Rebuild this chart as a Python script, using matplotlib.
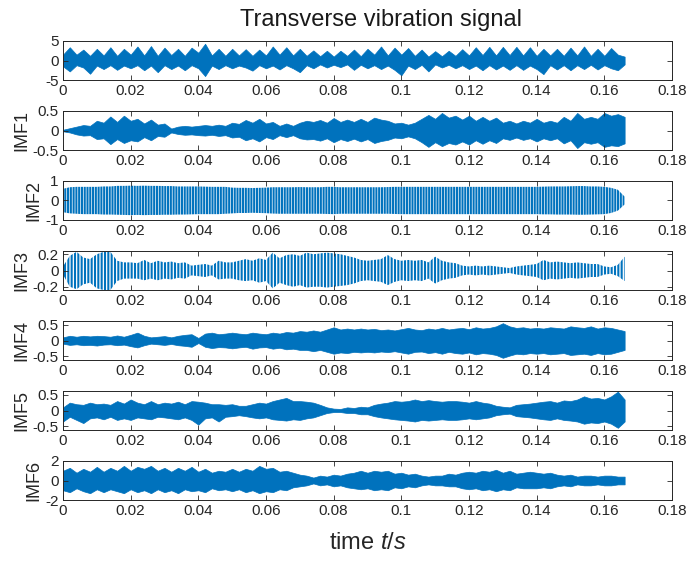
import numpy as np
import matplotlib
matplotlib.use('Agg')
import matplotlib.pyplot as plt
from matplotlib.ticker import FormatStrFormatter

plt.rcParams['font.family'] = ['Liberation Sans', 'DejaVu Sans']
plt.rcParams['mathtext.fontset'] = 'custom'
plt.rcParams['mathtext.it'] = 'Liberation Sans:italic'
plt.rcParams['mathtext.rm'] = 'Liberation Sans'
plt.rcParams['hatch.linewidth'] = 1.5

t = np.linspace(0, 0.166, 84)

raw_hi = [1.5, 3.4, 1.5, 2.8, 1.2, 3.0, 1.3, 3.4, 1.2, 3.0, 1.5, 3.6, 1.3, 3.7, 1.2, 3.3, 1.4, 3.0, 1.2, 3.3,
          2.0, 4.3, 1.3, 3.0, 1.2, 3.0, 1.3, 2.9, 1.2, 2.8, 1.3, 3.6, 1.5, 3.4, 1.3, 3.0, 1.2, 2.6, 1.1, 2.5,
          1.0, 2.5, 1.2, 2.8, 1.1, 3.0, 1.5, 3.6, 1.3, 3.3, 1.5, 3.2, 1.2, 2.8, 1.0, 2.4, 1.1, 2.5, 1.2, 2.9,
          1.3, 3.4, 1.4, 3.5, 1.3, 3.5, 1.4, 3.5, 1.3, 3.4, 1.2, 3.0, 1.3, 3.0, 1.2, 3.3, 1.3, 3.6, 1.2, 3.0,
          1.2, 3.2, 1.5, 1.0]
raw_lo = [-1.5, -2.8, -1.2, -1.8, -3.4, -1.3, -2.2, -1.2, -2.4, -1.3, -2.0, -1.2, -2.5, -1.3, -3.0, -1.2,
          -2.2, -1.3, -2.5, -1.2, -2.0, -4.0, -1.3, -2.2, -1.2, -2.0, -1.3, -1.8, -2.6, -1.2, -2.0, -1.3,
          -2.3, -1.2, -2.0, -3.0, -1.2, -2.0, -1.0, -1.8, -1.1, -1.7, -1.0, -2.4, -1.1, -2.0, -1.2, -2.2,
          -1.3, -2.4, -3.8, -1.3, -2.2, -1.1, -2.8, -1.0, -1.8, -1.1, -2.0, -1.2, -2.2, -1.3, -2.5, -1.2,
          -2.3, -1.3, -2.4, -1.2, -2.4, -1.3, -2.2, -3.5, -1.2, -2.3, -1.2, -2.5, -1.2, -2.2, -1.1, -2.3,
          -1.2, -2.0, -2.5, -1.0]

imf1_hi = [0.02, 0.06, 0.10, 0.14, 0.12, 0.25, 0.20, 0.36, 0.22, 0.38, 0.25, 0.30, 0.18, 0.28, 0.15, 0.18,
           0.05, 0.10, 0.12, 0.10, 0.12, 0.14, 0.12, 0.15, 0.12, 0.20, 0.17, 0.27, 0.20, 0.30, 0.18, 0.22,
           0.12, 0.18, 0.12, 0.20, 0.25, 0.22, 0.27, 0.20, 0.32, 0.22, 0.28, 0.22, 0.30, 0.22, 0.33, 0.28,
           0.25, 0.18, 0.20, 0.15, 0.20, 0.30, 0.40, 0.30, 0.45, 0.33, 0.38, 0.28, 0.38, 0.25, 0.35, 0.25,
           0.33, 0.20, 0.25, 0.18, 0.25, 0.20, 0.30, 0.20, 0.25, 0.20, 0.35, 0.25, 0.45, 0.30, 0.35, 0.30,
           0.45, 0.38, 0.42, 0.35]
imf1_lo = [-0.02, -0.05, -0.10, -0.13, -0.12, -0.22, -0.20, -0.35, -0.22, -0.32, -0.25, -0.28, -0.17, -0.25,
           -0.14, -0.16, -0.05, -0.09, -0.11, -0.10, -0.12, -0.13, -0.11, -0.14, -0.12, -0.18, -0.16, -0.25,
           -0.20, -0.28, -0.17, -0.22, -0.12, -0.17, -0.12, -0.20, -0.23, -0.22, -0.26, -0.20, -0.30, -0.22,
           -0.27, -0.21, -0.28, -0.22, -0.32, -0.27, -0.24, -0.18, -0.20, -0.15, -0.20, -0.30, -0.42, -0.30,
           -0.40, -0.32, -0.36, -0.28, -0.36, -0.25, -0.34, -0.25, -0.32, -0.20, -0.24, -0.18, -0.24, -0.20,
           -0.28, -0.20, -0.25, -0.20, -0.33, -0.25, -0.45, -0.30, -0.34, -0.30, -0.42, -0.38, -0.40, -0.33]

imf2_hi = [0.60, 0.68, 0.70, 0.70, 0.70, 0.70, 0.72, 0.72, 0.75, 0.75, 0.76, 0.75, 0.76, 0.75, 0.75, 0.74,
           0.74, 0.72, 0.72, 0.72, 0.72, 0.71, 0.70, 0.70, 0.70, 0.66, 0.65, 0.65, 0.64, 0.65, 0.66, 0.68,
           0.68, 0.68, 0.68, 0.69, 0.68, 0.68, 0.68, 0.70, 0.70, 0.68, 0.68, 0.68, 0.68, 0.68, 0.68, 0.68,
           0.69, 0.70, 0.70, 0.70, 0.70, 0.70, 0.70, 0.70, 0.70, 0.70, 0.70, 0.70, 0.70, 0.70, 0.70, 0.70,
           0.70, 0.70, 0.70, 0.70, 0.70, 0.70, 0.70, 0.71, 0.72, 0.72, 0.72, 0.73, 0.74, 0.74, 0.72, 0.72,
           0.70, 0.65, 0.55, 0.20]
imf2_lo = [-0.60, -0.66, -0.68, -0.70, -0.70, -0.70, -0.72, -0.72, -0.73, -0.74, -0.75, -0.74, -0.75, -0.74,
           -0.74, -0.73, -0.73, -0.72, -0.72, -0.71, -0.70, -0.70, -0.70, -0.70, -0.68, -0.66, -0.64, -0.64,
           -0.63, -0.64, -0.65, -0.67, -0.68, -0.68, -0.68, -0.68, -0.68, -0.68, -0.68, -0.69, -0.70, -0.68,
           -0.68, -0.68, -0.68, -0.68, -0.68, -0.68, -0.68, -0.69, -0.70, -0.70, -0.70, -0.70, -0.70, -0.70,
           -0.70, -0.70, -0.70, -0.70, -0.70, -0.70, -0.70, -0.70, -0.70, -0.70, -0.70, -0.70, -0.70, -0.70,
           -0.70, -0.71, -0.71, -0.72, -0.72, -0.72, -0.73, -0.73, -0.72, -0.71, -0.70, -0.64, -0.52, -0.20]

imf3_hi = [0.05, 0.18, 0.23, 0.16, 0.14, 0.20, 0.23, 0.23, 0.12, 0.10, 0.10, 0.09, 0.13, 0.09, 0.12, 0.10,
           0.11, 0.09, 0.10, 0.06, 0.07, 0.08, 0.06, 0.12, 0.10, 0.10, 0.12, 0.14, 0.12, 0.15, 0.13, 0.22,
           0.15, 0.19, 0.20, 0.18, 0.22, 0.20, 0.21, 0.22, 0.21, 0.20, 0.18, 0.16, 0.13, 0.12, 0.13, 0.14,
           0.19, 0.14, 0.12, 0.13, 0.12, 0.13, 0.10, 0.17, 0.12, 0.10, 0.09, 0.06, 0.05, 0.06, 0.05, 0.06,
           0.05, 0.04, 0.03, 0.05, 0.06, 0.07, 0.08, 0.13, 0.10, 0.11, 0.10, 0.09, 0.10, 0.09, 0.08, 0.08,
           0.05, 0.04, 0.07, 0.17]
imf3_lo = [-0.05, -0.20, -0.23, -0.17, -0.15, -0.22, -0.24, -0.24, -0.13, -0.10, -0.10, -0.10, -0.12, -0.10,
           -0.12, -0.10, -0.11, -0.09, -0.10, -0.06, -0.07, -0.08, -0.06, -0.11, -0.10, -0.10, -0.12, -0.13,
           -0.12, -0.15, -0.13, -0.22, -0.15, -0.18, -0.20, -0.18, -0.21, -0.20, -0.20, -0.21, -0.20, -0.19,
           -0.18, -0.16, -0.13, -0.12, -0.13, -0.14, -0.18, -0.14, -0.12, -0.13, -0.12, -0.13, -0.10, -0.16,
           -0.12, -0.10, -0.09, -0.06, -0.05, -0.06, -0.05, -0.06, -0.05, -0.04, -0.03, -0.05, -0.06, -0.07,
           -0.08, -0.12, -0.10, -0.11, -0.10, -0.09, -0.10, -0.09, -0.08, -0.08, -0.05, -0.04, -0.07, -0.13]

imf4_hi = [0.10, 0.15, 0.12, 0.15, 0.13, 0.15, 0.14, 0.12, 0.16, 0.12, 0.18, 0.25, 0.15, 0.10, 0.12, 0.14,
           0.10, 0.15, 0.18, 0.20, 0.08, 0.22, 0.25, 0.20, 0.22, 0.25, 0.22, 0.20, 0.25, 0.22, 0.20, 0.25,
           0.22, 0.27, 0.25, 0.30, 0.28, 0.32, 0.28, 0.35, 0.42, 0.35, 0.38, 0.35, 0.38, 0.35, 0.37, 0.33,
           0.35, 0.32, 0.36, 0.40, 0.35, 0.33, 0.38, 0.35, 0.40, 0.35, 0.38, 0.40, 0.36, 0.42, 0.38, 0.40,
           0.45, 0.55, 0.45, 0.40, 0.42, 0.38, 0.40, 0.38, 0.42, 0.40, 0.38, 0.45, 0.42, 0.40, 0.45, 0.38,
           0.42, 0.40, 0.35, 0.30]
imf4_lo = [-0.10, -0.14, -0.12, -0.15, -0.14, -0.16, -0.13, -0.12, -0.15, -0.13, -0.18, -0.22, -0.15, -0.10,
           -0.12, -0.14, -0.11, -0.15, -0.17, -0.20, -0.08, -0.20, -0.24, -0.21, -0.22, -0.25, -0.22, -0.20,
           -0.26, -0.22, -0.21, -0.26, -0.23, -0.28, -0.26, -0.30, -0.30, -0.34, -0.30, -0.36, -0.42, -0.38,
           -0.40, -0.36, -0.38, -0.36, -0.38, -0.35, -0.37, -0.34, -0.38, -0.42, -0.36, -0.35, -0.40, -0.37,
           -0.42, -0.36, -0.40, -0.42, -0.38, -0.44, -0.40, -0.42, -0.46, -0.55, -0.48, -0.42, -0.44, -0.40,
           -0.42, -0.40, -0.44, -0.42, -0.40, -0.46, -0.44, -0.42, -0.46, -0.40, -0.44, -0.42, -0.36, -0.30]

imf5_hi = [0.10, 0.25, 0.20, 0.18, 0.25, 0.20, 0.22, 0.18, 0.30, 0.22, 0.35, 0.25, 0.20, 0.30, 0.20, 0.25,
           0.22, 0.28, 0.20, 0.30, 0.28, 0.25, 0.20, 0.20, 0.18, 0.20, 0.15, 0.15, 0.20, 0.25, 0.22, 0.30,
           0.35, 0.40, 0.30, 0.30, 0.28, 0.25, 0.18, 0.10, 0.06, 0.05, 0.10, 0.08, 0.12, 0.10, 0.18, 0.22,
           0.25, 0.30, 0.28, 0.30, 0.35, 0.30, 0.33, 0.30, 0.28, 0.30, 0.30, 0.28, 0.25, 0.30, 0.25, 0.22,
           0.15, 0.12, 0.10, 0.18, 0.20, 0.22, 0.25, 0.28, 0.30, 0.25, 0.32, 0.30, 0.35, 0.45, 0.38, 0.40,
           0.35, 0.45, 0.60, 0.35]
imf5_lo = [-0.35, -0.20, -0.30, -0.40, -0.25, -0.22, -0.28, -0.20, -0.30, -0.25, -0.30, -0.22, -0.25, -0.28,
           -0.20, -0.22, -0.25, -0.28, -0.22, -0.30, -0.45, -0.25, -0.22, -0.35, -0.20, -0.18, -0.15, -0.18,
           -0.22, -0.25, -0.22, -0.28, -0.30, -0.32, -0.28, -0.30, -0.25, -0.22, -0.15, -0.08, -0.05, -0.05,
           -0.08, -0.08, -0.12, -0.12, -0.18, -0.22, -0.25, -0.28, -0.30, -0.32, -0.35, -0.30, -0.32, -0.30,
           -0.28, -0.30, -0.30, -0.28, -0.25, -0.28, -0.25, -0.22, -0.15, -0.12, -0.10, -0.18, -0.20, -0.22,
           -0.25, -0.28, -0.30, -0.25, -0.30, -0.32, -0.35, -0.42, -0.38, -0.40, -0.35, -0.42, -0.55, -0.35]

imf6_hi = [1.0, 1.3, 0.8, 1.2, 0.9, 1.4, 0.9, 1.3, 1.0, 1.5, 1.0, 1.4, 1.2, 1.5, 1.0, 1.3, 0.9, 1.3, 1.0, 1.4,
           0.9, 1.2, 0.8, 1.0, 0.9, 1.2, 0.9, 1.2, 1.0, 1.5, 1.2, 1.3, 0.9, 1.0, 0.8, 0.6, 0.5, 0.3, 0.5, 0.4,
           0.6, 0.5, 0.7, 0.8, 1.0, 0.8, 1.0, 0.9, 1.0, 0.7, 0.8, 0.6, 0.7, 0.5, 0.4, 0.5, 0.5, 0.7, 0.6, 0.8,
           0.9, 0.8, 1.0, 0.9, 1.1, 0.8, 1.0, 0.7, 0.8, 0.9, 0.8, 0.7, 0.8, 0.6, 0.5, 0.6, 0.4, 0.5, 0.5, 0.4,
           0.5, 0.5, 0.4, 0.4]
imf6_lo = [-1.0, -1.2, -0.8, -1.1, -1.3, -0.9, -1.2, -0.9, -1.1, -1.3, -0.9, -1.2, -1.0, -1.3, -0.9, -1.2,
           -1.0, -1.3, -0.9, -1.1, -1.0, -1.2, -0.8, -1.0, -0.9, -1.1, -0.9, -1.2, -1.0, -1.3, -1.1, -1.2,
           -0.9, -1.0, -0.7, -0.6, -0.5, -0.3, -0.5, -0.4, -0.6, -0.5, -0.7, -0.8, -0.9, -0.8, -1.0, -0.9,
           -1.0, -0.7, -0.8, -0.6, -0.7, -0.5, -0.4, -0.5, -0.5, -0.6, -0.6, -0.8, -0.9, -0.8, -1.0, -0.9,
           -1.1, -0.9, -1.0, -0.7, -0.8, -0.8, -0.8, -0.7, -0.8, -0.6, -0.5, -0.6, -0.4, -0.5, -0.5, -0.4,
           -0.5, -0.5, -0.4, -0.4]

panels = [(raw_hi, raw_lo, '', (-5, 5), [-5, 0, 5], 0),
          (imf1_hi, imf1_lo, 'IMF1', (-0.5, 0.5), [-0.5, 0, 0.5], 0),
          (imf2_hi, imf2_lo, 'IMF2', (-1, 1), [-1, 0, 1], 6),
          (imf3_hi, imf3_lo, 'IMF3', (-0.24, 0.24), [-0.2, 0, 0.2], 5),
          (imf4_hi, imf4_lo, 'IMF4', (-0.62, 0.62), [-0.5, 0, 0.5], 0),
          (imf5_hi, imf5_lo, 'IMF5', (-0.62, 0.62), [-0.5, 0, 0.5], 0),
          (imf6_hi, imf6_lo, 'IMF6', (-2, 2), [-2, 0, 2], 0)]
xticks = [0, 0.02, 0.04, 0.06, 0.08, 0.1, 0.12, 0.14, 0.16, 0.18]

blue = '#0072BD'
W, H = 699, 561
fig = plt.figure(figsize=(W / 100, H / 100), dpi=100)

for i, (hi, lo, name, ylim, yt, stripes) in enumerate(panels):
    top = 41 + 70 * i
    ax = fig.add_axes([63 / W, 1 - (top + 39) / H, 609 / W, 39 / H])
    if stripes:
        ax.fill_between(t, lo, hi, facecolor='none', edgecolor=blue,
                        hatch='|' * stripes, linewidth=0)
    else:
        ax.fill_between(t, lo, hi, facecolor=blue, edgecolor=blue, linewidth=0.5)
    ax.set_xlim(0, 0.18)
    ax.set_ylim(*ylim)
    ax.set_xticks(xticks)
    ax.set_yticks(yt)
    ax.xaxis.set_major_formatter(FormatStrFormatter('%g'))
    ax.yaxis.set_major_formatter(FormatStrFormatter('%g'))
    ax.tick_params(direction='in', top=True, right=True, length=3.5, width=0.6,
                   labelsize=11, color='#262626', labelcolor='#262626', pad=3)
    for s in ax.spines.values():
        s.set_linewidth(0.7)
        s.set_color('#262626')
    if name:
        ax.set_ylabel(name, fontsize=13, color='#262626', labelpad=2)
    if i == len(panels) - 1:
        ax.set_xlabel('time $\\mathit{t/s}$', fontsize=17, color='#262626', labelpad=10)

fig.text(381 / W, 1 - 20 / H, 'Transverse vibration signal', fontsize=17,
         color='#1a1a1a', ha='center', va='center')

fig.savefig('out.png', dpi=100)
